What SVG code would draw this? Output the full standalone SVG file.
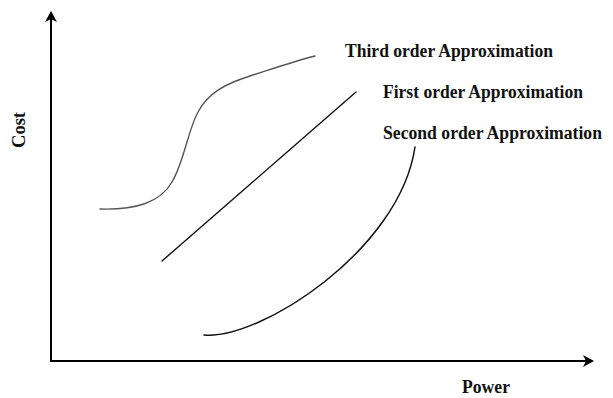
<svg xmlns="http://www.w3.org/2000/svg" width="613" height="398" viewBox="0 0 613 398">
<style>
.lbl{font-family:"Liberation Serif","Times New Roman",serif;font-weight:bold;font-size:18.5px;fill:#111}
.ax{stroke:#000;stroke-width:2;fill:none}
.crv{fill:none;stroke-linecap:round}
</style>
<defs>
<marker id="ah" markerWidth="12" markerHeight="12" refX="9" refY="6" orient="auto" markerUnits="userSpaceOnUse">
<path d="M0,0 L11,6 L0,12 L3,6 Z" fill="#000"/>
</marker>
</defs>
<g id="axes">
<line class="ax" x1="51" y1="361" x2="51" y2="13" marker-end="url(#ah)"/>
<line class="ax" x1="50" y1="361" x2="592" y2="361" marker-end="url(#ah)"/>
</g>
<g id="connectors">
<path id="third" class="crv" d="M100,209 C135,210 160,203 172,182 C184,162 188,130 198,112 C208,93 225,84 250,76 C275,68 295,61 315,56" stroke="#555" stroke-width="1.4"/>
<line id="first" class="crv" x1="162" y1="261" x2="356" y2="92" stroke="#111" stroke-width="1.4"/>
<path id="second" class="crv" d="M204,335 C260,340 400,250 415,147" stroke="#111" stroke-width="1.5"/>
</g>
<g id="label-third"><text class="lbl" x="345" y="57" textLength="208" lengthAdjust="spacingAndGlyphs">Third order Approximation</text></g>
<g id="label-first"><text class="lbl" x="383" y="98" textLength="200" lengthAdjust="spacingAndGlyphs">First order Approximation</text></g>
<g id="label-second"><text class="lbl" x="383" y="139" textLength="219" lengthAdjust="spacingAndGlyphs">Second order Approximation</text></g>
<g id="label-cost"><text class="lbl" transform="translate(25,130) rotate(-90)" text-anchor="middle">Cost</text></g>
<g id="label-power"><text class="lbl" x="462" y="393" textLength="48" lengthAdjust="spacingAndGlyphs">Power</text></g>
</svg>
